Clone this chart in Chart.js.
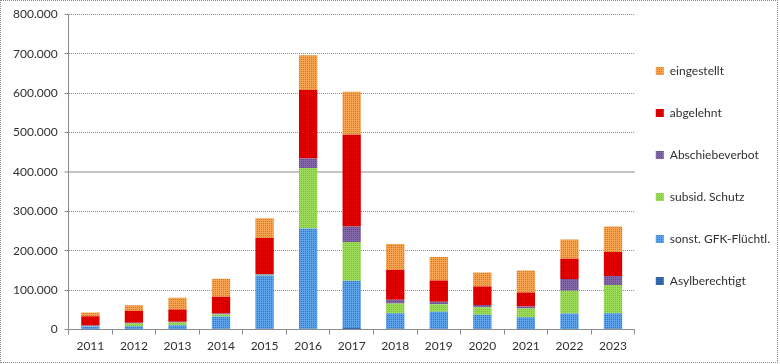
<!DOCTYPE html>
<html>
<head>
<meta charset="utf-8">
<script src="https://cdn.jsdelivr.net/npm/chart.js@4.4.1/dist/chart.umd.min.js"></script>
<style>
  html, body { margin: 0; padding: 0; background: #fff; }
  #wrap { position: relative; width: 780px; height: 364px; }
  #frame { position: absolute; left: 0; top: 0; width: 776px; height: 361px; border: 1px dotted #8a8a8a; pointer-events: none; }
</style>
</head>
<body>
<div id="wrap">
  <canvas id="chart" width="780" height="364"></canvas>
  <div id="frame"></div>
</div>
<script>
// Entscheidungen je Jahr
const years = ['2011', '2012', '2013', '2014', '2015', '2016', '2017', '2018', '2019', '2020', '2021', '2022', '2023'];
const asylberechtigt = [652, 740, 919, 2285, 2029, 2120, 4359, 2841, 2192, 1693, 1156, 1823, 3000];
const gfkFluechtl = [7098, 8024, 9996, 31025, 135107, 254016, 119550, 38527, 42861, 36162, 30000, 38976, 38600];
const subsidSchutz = [666, 6974, 7005, 5174, 1707, 153700, 98074, 25055, 19419, 18950, 22500, 57532, 71500];
const abschiebeverbot = [1911, 1402, 2208, 2079, 2072, 24084, 39659, 9548, 5857, 5702, 5000, 29845, 23000];
const abgelehnt = [23717, 30700, 31145, 43018, 91514, 173846, 232307, 75395, 54034, 46586, 35600, 51585, 61000];
const eingestellt = [9318, 13986, 29705, 45330, 50297, 87967, 109479, 65507, 59591, 35978, 55700, 48912, 64500];
const yTicks = [0, 100000, 200000, 300000, 400000, 500000, 600000, 700000, 800000];

// kleines Raster wie bei der Excel-Füllung
function muster(base, dot) {
    const c = document.createElement('canvas');
    c.width = 2; c.height = 2;
    const g = c.getContext('2d');
    g.fillStyle = base;
    g.fillRect(0, 0, 2, 2);
    g.fillStyle = dot;
    g.fillRect(1, 1, 1, 1);
    return g.createPattern(c, 'repeat');
}

const fills = {
    asyl: muster('#3a6aae', '#27508e'),
    gfk: muster('#5ea2ea', '#3572c6'),
    subsid: muster('#9cdb5a', '#7cbc3e'),
    abschiebe: muster('#8468a8', '#5e4486'),
    abgelehnt: muster('#e00000', '#b40000'),
    eingestellt: muster('#f6a352', '#e6683a')
};

function formatDE(v) {
    return String(v).replace(/\B(?=(\d{3})+(?!\d))/g, '.');
}

const font = { family: 'Lato', size: 12 };
const textColor = '#303030';
const legendPadding = 30;

// Legende etwas näher an die Zeichenfläche und nach oben rücken
const legendeVerschieben = {
    id: 'legendeVerschieben',
    afterLayout(chart) {
        const lg = chart.legend;
        const dx = (chart.chartArea.right + 21 - legendPadding) - lg.left;
        lg.left += dx; lg.right += dx;
        lg.top -= 8; lg.bottom -= 8;
    }
};

new Chart(document.getElementById('chart').getContext('2d'), {
    type: 'bar',
    data: {
        labels: years,
        datasets: [
            { label: 'Asylberechtigt', data: asylberechtigt, backgroundColor: fills.asyl },
            { label: 'sonst. GFK-Flüchtl.', data: gfkFluechtl, backgroundColor: fills.gfk },
            { label: 'subsid. Schutz', data: subsidSchutz, backgroundColor: fills.subsid },
            { label: 'Abschiebeverbot', data: abschiebeverbot, backgroundColor: fills.abschiebe },
            { label: 'abgelehnt', data: abgelehnt, backgroundColor: fills.abgelehnt },
            { label: 'eingestellt', data: eingestellt, backgroundColor: fills.eingestellt }
        ]
    },
    options: {
        responsive: false,
        animation: false,
        datasets: {
            bar: { categoryPercentage: 1, barPercentage: 0.42, borderWidth: 0 }
        },
        layout: { padding: { top: 11, right: -9, bottom: 7, left: 6 } },
        scales: {
            x: {
                stacked: true,
                grid: { offset: true, drawOnChartArea: false, drawTicks: true, tickLength: 5, color: '#8c8c8c' },
                border: { display: true, color: '#8c8c8c' },
                ticks: { font: font, color: textColor, padding: 4, maxRotation: 0 }
            },
            y: {
                stacked: true,
                min: 0,
                max: 800000,
                afterBuildTicks: axis => { axis.ticks = yTicks.map(v => ({ value: v })); },
                grid: {
                    color: ctx => ctx.tick && ctx.tick.value === 400000 ? '#c6c6c6' : '#8c8c8c',
                    lineWidth: ctx => ctx.tick && ctx.tick.value === 400000 ? 2 : 1,
                    tickLength: 4
                },
                border: {
                    display: true,
                    color: '#8c8c8c',
                    dash: ctx => ctx.tick && ctx.tick.value === 400000 ? [] : [1, 1]
                },
                ticks: { font: font, color: textColor, padding: 7, callback: v => formatDE(v) }
            }
        },
        plugins: {
            legend: {
                position: 'right',
                reverse: true,
                labels: { font: font, color: textColor, boxWidth: 8, boxHeight: 8, padding: legendPadding }
            },
            tooltip: { enabled: false }
        }
    },
    plugins: [legendeVerschieben]
});
</script>
</body>
</html>
